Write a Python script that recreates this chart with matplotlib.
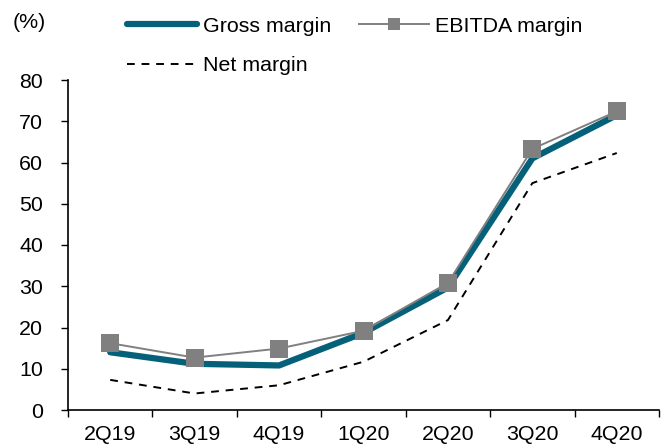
import matplotlib
matplotlib.use("Agg")
import matplotlib.pyplot as plt
import numpy as np

# quarterly margins (%)
quarters = ['2Q19', '3Q19', '4Q19', '1Q20', '2Q20', '3Q20', '4Q20']
gross_margin = [14.0, 11.2, 10.8, 18.7, 29.7, 61.0, 71.5]
ebitda_margin = [16.2, 12.7, 14.9, 19.2, 30.8, 63.3, 72.4]
net_margin = [7.3, 4.0, 6.0, 11.7, 21.8, 55.0, 62.3]

plt.rcParams['font.family'] = ['Liberation Sans', 'DejaVu Sans']
plt.rcParams['font.size'] = 15.4

fig = plt.figure(figsize=(6.72, 4.45), dpi=100)
ax = fig.add_axes([68 / 672, 35 / 445, 591 / 672, 330 / 445])

x = np.arange(len(quarters))
l_net, = ax.plot(x, net_margin, color='black', lw=1.4, ls=(0, (4, 3.5)),
                 label='Net margin')
l_gross, = ax.plot(x, gross_margin, color='#05617a', lw=4.5,
                   solid_capstyle='round', solid_joinstyle='round',
                   label='Gross margin')
l_ebitda, = ax.plot(x, ebitda_margin, color='#808080', lw=1.4, marker='s',
                    markersize=12.5, markeredgewidth=0, label='EBITDA margin')

ax.set_xlim(-0.5, len(quarters) - 0.5)
ax.set_ylim(0, 80)
ax.set_yticks(np.arange(0, 81, 10))
ax.set_xticks(x)
ax.set_xticklabels(quarters)
ax.set_xticks(np.arange(-0.5, len(quarters)), minor=True)
ax.tick_params(axis='x', which='major', length=0, pad=11)
ax.tick_params(axis='x', which='minor', length=5, width=1, direction='out')
ax.tick_params(axis='y', length=5, width=1, direction='out', pad=13)

for side in ['top', 'right']:
    ax.spines[side].set_visible(False)
for side in ['left', 'bottom']:
    ax.spines[side].set_linewidth(1.2)

fig.text(13 / 672, 1 - 22 / 445, '(%)', va='center', ha='left')

# legend entries listed column-wise so rows read Gross / EBITDA, then Net
fig.legend([l_gross, l_net, l_ebitda],
           ['Gross margin', 'Net margin', 'EBITDA margin'],
           ncol=2, loc='upper left', bbox_to_anchor=(116 / 672, 1 - 6 / 445),
           frameon=False, borderpad=0, handlelength=3.3, handletextpad=0.25,
           columnspacing=1.3, labelspacing=0.95, markerscale=0.65)

fig.savefig('out.png', dpi=100)
